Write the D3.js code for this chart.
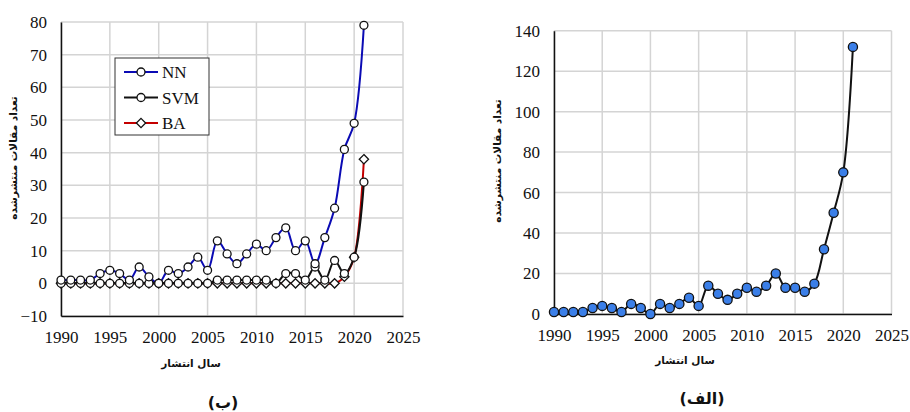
<!DOCTYPE html>
<html lang="en">
<head>
<meta charset="UTF-8"/>
<title>Publications per year</title>
<script src="https://d3js.org/d3.v7.min.js"></script>
<style>
    body { margin: 0; background: #fff; }
    .fa { font-family: "DejaVu Sans", sans-serif; font-weight: bold; fill: #111; }
    .num { font-family: "Liberation Serif", serif; font-size: 17px; fill: #111; }
</style>
</head>
<body>
<script>
    // years shared by both charts
    var years = d3.range(1990, 2022);

    // left chart (b): three methods
    var nnValues  = [1,1,1,1,3,4,3,1,5,2,0,4,3,5,8,4,13,9,6,9,12,10,14,17,10,13,6,14,23,41,49,79];
    var svmValues = [0,0,0,0,0,0,0,0,0,0,0,0,0,0,0,0,1,1,1,1,1,1,0,3,3,1,5,1,7,3,8,31];
    var baValues  = [0,0,0,0,0,0,0,0,0,0,0,0,0,0,0,0,0,0,0,0,0,0,0,0,0,0,0,0,0,2,8,38];
    var seriesNames = ["NN", "SVM", "BA"];

    // right chart (alef): total
    var totalValues = [1,1,1,1,3,4,3,1,5,3,0,5,3,5,8,4,14,10,7,10,13,11,14,20,13,13,11,15,32,50,70,132];

    var xTicks = [1990, 1995, 2000, 2005, 2010, 2015, 2020, 2025];
    var leftYTicks = [-10, 0, 10, 20, 30, 40, 50, 60, 70, 80];
    var rightYTicks = [0, 20, 40, 60, 80, 100, 120, 140];

    var yTitle = "تعداد مقالات منتشرشده";
    var xTitle = "سال انتشار";

    var w = 910, h = 412;
    var svg = d3.select("body").append("svg")
        .attr("width", w)
        .attr("height", h);

    var smooth = d3.curveCatmullRom.alpha(0.5);

    function drawFrame(x, y, yTicks, x0, x1, y0, y1, baseVal) {
        var g = svg.append("g");
        // grid
        g.selectAll(".vg").data(xTicks).enter().append("line")
            .attr("x1", function(d) { return x(d); })
            .attr("x2", function(d) { return x(d); })
            .attr("y1", y1).attr("y2", y0)
            .attr("stroke", "#d4d4d4").attr("stroke-width", 1.5);
        g.selectAll(".hg").data(yTicks).enter().append("line")
            .attr("x1", x0).attr("x2", x1)
            .attr("y1", function(d) { return y(d); })
            .attr("y2", function(d) { return y(d); })
            .attr("stroke", "#d4d4d4").attr("stroke-width", 1.5);

        var xAxis = d3.axisBottom(x).tickValues(xTicks).tickFormat(d3.format("d")).tickSize(0).tickPadding(10);
        var yAxis = d3.axisLeft(y).tickValues(yTicks).tickSize(0).tickPadding(14);

        var gx = svg.append("g")
            .attr("transform", "translate(0," + y(baseVal) + ")")
            .call(xAxis);
        gx.attr("font-family", null).attr("font-size", null);
        gx.select(".domain").attr("stroke", "#111").attr("stroke-width", 1.5);
        gx.selectAll(".tick text").attr("class", "num").attr("fill", null).attr("dy", "1em");

        var gy = svg.append("g")
            .attr("transform", "translate(" + x0 + ",0)")
            .call(yAxis);
        gy.attr("font-family", null).attr("font-size", null);
        gy.select(".domain").attr("stroke", "#111").attr("stroke-width", 1.5);
        gy.selectAll(".tick text").attr("class", "num").attr("fill", null);
    }

    // ---------- left chart ----------
    var xL = d3.scaleLinear().domain([1990, 2025]).range([61, 403]);
    var yL = d3.scaleLinear().domain([-10, 80]).range([316, 22]);
    drawFrame(xL, yL, leftYTicks, 61, 403, 316, 22, -10);

    var leftSeries = [
        { name: seriesNames[0], values: nnValues,  color: "#0a0ab4", marker: "circle" },
        { name: seriesNames[1], values: svmValues, color: "#111111", marker: "circle" },
        { name: seriesNames[2], values: baValues,  color: "#c40000", marker: "diamond" }
    ];

    var lineL = d3.line()
        .x(function(d, i) { return xL(years[i]); })
        .y(function(d) { return yL(d); })
        .curve(smooth);

    // draw lines in the order BA, SVM, NN so NN sits on top
    [2, 1, 0].forEach(function(k) {
        var s = leftSeries[k];
        svg.append("path")
            .datum(s.values)
            .attr("d", lineL)
            .attr("fill", "none")
            .attr("stroke", s.color)
            .attr("stroke-width", 2);
    });

    var circleSym = d3.symbol().type(d3.symbolCircle).size(50);
    var diamond = d3.symbol().type(d3.symbolDiamond2).size(55);
    [2, 1, 0].forEach(function(k) {
        var s = leftSeries[k];
        svg.append("g").selectAll("path")
            .data(s.values).enter().append("path")
            .attr("transform", function(d, i) { return "translate(" + xL(years[i]) + "," + yL(d) + ")"; })
            .attr("d", s.marker == "circle" ? circleSym : diamond)
            .attr("fill", "#fff")
            .attr("stroke", "#111")
            .attr("stroke-width", 1.3);
    });

    // legend
    var leg = svg.append("g").attr("transform", "translate(115,58)");
    leg.append("rect")
        .attr("width", 94).attr("height", 77)
        .attr("fill", "#fff").attr("stroke", "#333").attr("stroke-width", 1);
    leftSeries.forEach(function(s, i) {
        var yy = 14 + i * 25.5;
        leg.append("line")
            .attr("x1", 9).attr("x2", 43)
            .attr("y1", yy).attr("y2", yy)
            .attr("stroke", s.color).attr("stroke-width", 2);
        leg.append("path")
            .attr("transform", "translate(26," + yy + ")")
            .attr("d", s.marker == "circle" ? circleSym() : diamond())
            .attr("fill", "#fff").attr("stroke", "#111").attr("stroke-width", 1.3);
        leg.append("text")
            .attr("class", "num")
            .attr("x", 47).attr("y", yy + 6)
            .text(s.name);
    });

    // titles
    svg.append("text").attr("class", "fa")
        .attr("text-anchor", "middle")
        .attr("transform", "translate(17,158) rotate(-90)")
        .style("font-size", "10.5px")
        .text(yTitle);
    svg.append("text").attr("class", "fa")
        .attr("text-anchor", "middle")
        .attr("x", 191).attr("y", 367)
        .style("font-size", "10.5px")
        .text(xTitle);
    svg.append("text").attr("class", "fa")
        .attr("text-anchor", "middle")
        .attr("x", 223).attr("y", 408)
        .style("font-size", "16px")
        .text("(ب)");

    // ---------- right chart ----------
    var xR = d3.scaleLinear().domain([1990, 2025]).range([554, 891.5]);
    var yR = d3.scaleLinear().domain([0, 140]).range([314, 30.7]);
    drawFrame(xR, yR, rightYTicks, 554, 891.5, 314, 30.7, 0);

    var lineR = d3.line()
        .x(function(d, i) { return xR(years[i]); })
        .y(function(d) { return yR(d); })
        .curve(smooth);

    svg.append("path")
        .datum(totalValues)
        .attr("d", lineR)
        .attr("fill", "none")
        .attr("stroke", "#111")
        .attr("stroke-width", 2);

    svg.append("g").selectAll("circle")
        .data(totalValues).enter().append("circle")
        .attr("cx", function(d, i) { return xR(years[i]); })
        .attr("cy", function(d) { return yR(d); })
        .attr("r", 4.6)
        .attr("fill", "#3b7fe8")
        .attr("stroke", "#111")
        .attr("stroke-width", 1.3);

    svg.append("text").attr("class", "fa")
        .attr("text-anchor", "middle")
        .attr("transform", "translate(501,161) rotate(-90)")
        .style("font-size", "10.5px")
        .text(yTitle);
    svg.append("text").attr("class", "fa")
        .attr("text-anchor", "middle")
        .attr("x", 685).attr("y", 364)
        .style("font-size", "10.5px")
        .text(xTitle);
    svg.append("text").attr("class", "fa")
        .attr("text-anchor", "middle")
        .attr("x", 702).attr("y", 404)
        .style("font-size", "16px")
        .text("(الف)");
</script>
</body>
</html>
